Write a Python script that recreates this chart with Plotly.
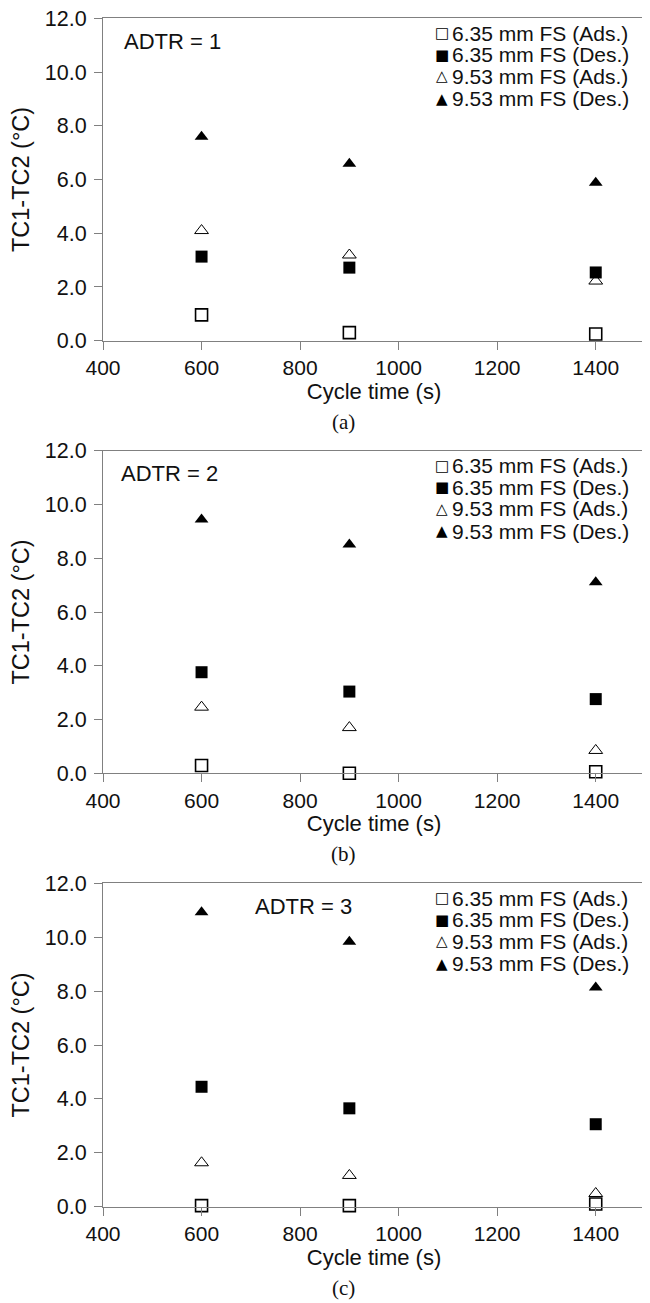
import plotly.graph_objects as go

# ---------------- data ----------------
cycle_time = [600, 900, 1400]

adtr_labels = ["ADTR = 1", "ADTR = 2", "ADTR = 3"]
panel_labels = ["(a)", "(b)", "(c)"]
series_names = ["6.35 mm FS (Ads.)", "6.35 mm FS (Des.)",
                "9.53 mm FS (Ads.)", "9.53 mm FS (Des.)"]
legend_glyphs = ["\u25A1", "\u25A0", "\u25B3", "\u25B2"]

# ADTR = 1
fs635_ads_1 = [0.96, 0.30, 0.25]
fs635_des_1 = [3.13, 2.72, 2.54]
fs953_ads_1 = [4.10, 3.19, 2.22]
fs953_des_1 = [7.59, 6.59, 5.88]
# ADTR = 2
fs635_ads_2 = [0.29, 0.00, 0.06]
fs635_des_2 = [3.76, 3.04, 2.76]
fs953_ads_2 = [2.46, 1.70, 0.85]
fs953_des_2 = [9.44, 8.51, 7.11]
# ADTR = 3
fs635_ads_3 = [0.04, 0.04, 0.10]
fs635_des_3 = [4.45, 3.65, 3.06]
fs953_ads_3 = [1.63, 1.16, 0.49]
fs953_des_3 = [10.93, 9.83, 8.13]

x_tickvals = [400, 600, 800, 1000, 1200, 1400]
x_ticktext = ["400", "600", "800", "1000", "1200", "1400"]
y_tickvals = [0, 2, 4, 6, 8, 10, 12]
y_ticktext = ["0.0", "2.0", "4.0", "6.0", "8.0", "10.0", "12.0"]

panels = [
    [fs635_ads_1, fs635_des_1, fs953_ads_1, fs953_des_1],
    [fs635_ads_2, fs635_des_2, fs953_ads_2, fs953_des_2],
    [fs635_ads_3, fs635_des_3, fs953_ads_3, fs953_des_3],
]

# ---------------- styling ----------------
# the page body has an 8 px margin, so the figure is drawn 8 px smaller
OFF = 8
W, H = 650 - OFF, 1303 - OFF
SANS = "Liberation Sans, Arial, sans-serif"
SERIF = "Liberation Serif, Times New Roman, serif"
AXC = "#808080"
TXT = "#111111"

symbols = ["square-open", "square", "triangle-up-open", "triangle-up"]
line_w = [1.6, 0, 1.0, 0]
sizes = [12, 12, 12, 12]

# layout positions measured in window pixels, converted to figure pixels
plot_left, plot_right = 103 - OFF, 645 - OFF
tops = [t - OFF for t in (18.3, 450.7, 883.3)]
bottoms = [b - OFF for b in (340.7, 773.3, 1206.7)]

fig = go.Figure()
layout = dict(
    width=W, height=H,
    margin=dict(l=0, r=0, t=0, b=0),
    paper_bgcolor="white", plot_bgcolor="white",
    showlegend=False,
    font=dict(family=SANS, color=TXT, size=21),
)
annotations = []

for i, vals_list in enumerate(panels):
    sfx = "" if i == 0 else str(i + 1)
    xa, ya = "x" + sfx, "y" + sfx
    for k, vals in enumerate(vals_list):
        fig.add_trace(go.Scatter(
            x=cycle_time, y=vals, mode="markers", name=series_names[k],
            xaxis=xa, yaxis=ya, cliponaxis=False, showlegend=False,
            marker=dict(symbol=symbols[k], size=sizes[k], color="black",
                        line=dict(color="black", width=line_w[k])),
        ))
    ydom = [1 - bottoms[i] / H, 1 - tops[i] / H]
    xdom = [plot_left / W, plot_right / W]
    layout["xaxis" + sfx] = dict(
        domain=xdom, anchor=ya, range=[400, 1500],
        tickvals=x_tickvals, ticktext=x_ticktext,
        ticks="outside", ticklen=8, tickcolor=AXC, tickwidth=1,
        ticklabeloverflow="allow",
        showline=True, linecolor=AXC, linewidth=1, mirror=True,
        showgrid=False, zeroline=False,
        tickfont=dict(family=SANS, size=21, color=TXT),
        title=dict(text="Cycle time (s)", font=dict(family=SANS, size=22, color=TXT), standoff=4),
        automargin=False,
    )
    layout["yaxis" + sfx] = dict(
        domain=ydom, anchor=xa, range=[0, 12],
        tickvals=y_tickvals, ticktext=y_ticktext,
        ticks="outside", ticklen=8, tickcolor=AXC, tickwidth=1,
        ticklabelstandoff=3, ticklabeloverflow="allow",
        showline=True, linecolor=AXC, linewidth=1, mirror=True,
        showgrid=False, zeroline=False,
        tickfont=dict(family=SANS, size=21.5, color=TXT),
        title=dict(text="TC1-TC2 (\u00b0C)", font=dict(family=SANS, size=23.5, color=TXT), standoff=8),
        automargin=False,
    )
    ph = bottoms[i] - tops[i]
    pw = plot_right - plot_left
    # ADTR label
    adtr_x = [122, 118.5, 253][i] - OFF
    annotations.append(dict(
        text=adtr_labels[i], xref=xa + " domain", yref=ya + " domain",
        x=(adtr_x - plot_left) / pw, y=1 - 23 / ph, xanchor="left", yanchor="middle",
        showarrow=False, font=dict(family=SANS, size=22, color=TXT),
    ))
    # legend (manual, tight row spacing as in reference)
    offsets = [15, 36.5, 58, 80.5]
    for k in range(4):
        yy = 1 - offsets[k] / ph
        annotations.append(dict(
            text=legend_glyphs[k], xref=xa + " domain", yref=ya + " domain",
            x=(442 - OFF - plot_left) / pw, y=yy, xanchor="center", yanchor="middle",
            showarrow=False, font=dict(family="DejaVu Sans", size=15, color="black"),
        ))
        annotations.append(dict(
            text=series_names[k], xref=xa + " domain", yref=ya + " domain",
            x=(450 - OFF - plot_left) / pw, y=yy, xanchor="left", yanchor="middle",
            showarrow=False, font=dict(family=SANS, size=21, color=TXT),
        ))
    # panel label
    annotations.append(dict(
        text=panel_labels[i], xref="paper", yref="paper",
        x=(344 - OFF) / W, y=1 - (bottoms[i] + 81) / H, xanchor="center", yanchor="middle",
        showarrow=False, font=dict(family=SERIF, size=21, color=TXT),
    ))

layout["annotations"] = annotations
fig.update_layout(**layout)
fig.write_html("out.html")
